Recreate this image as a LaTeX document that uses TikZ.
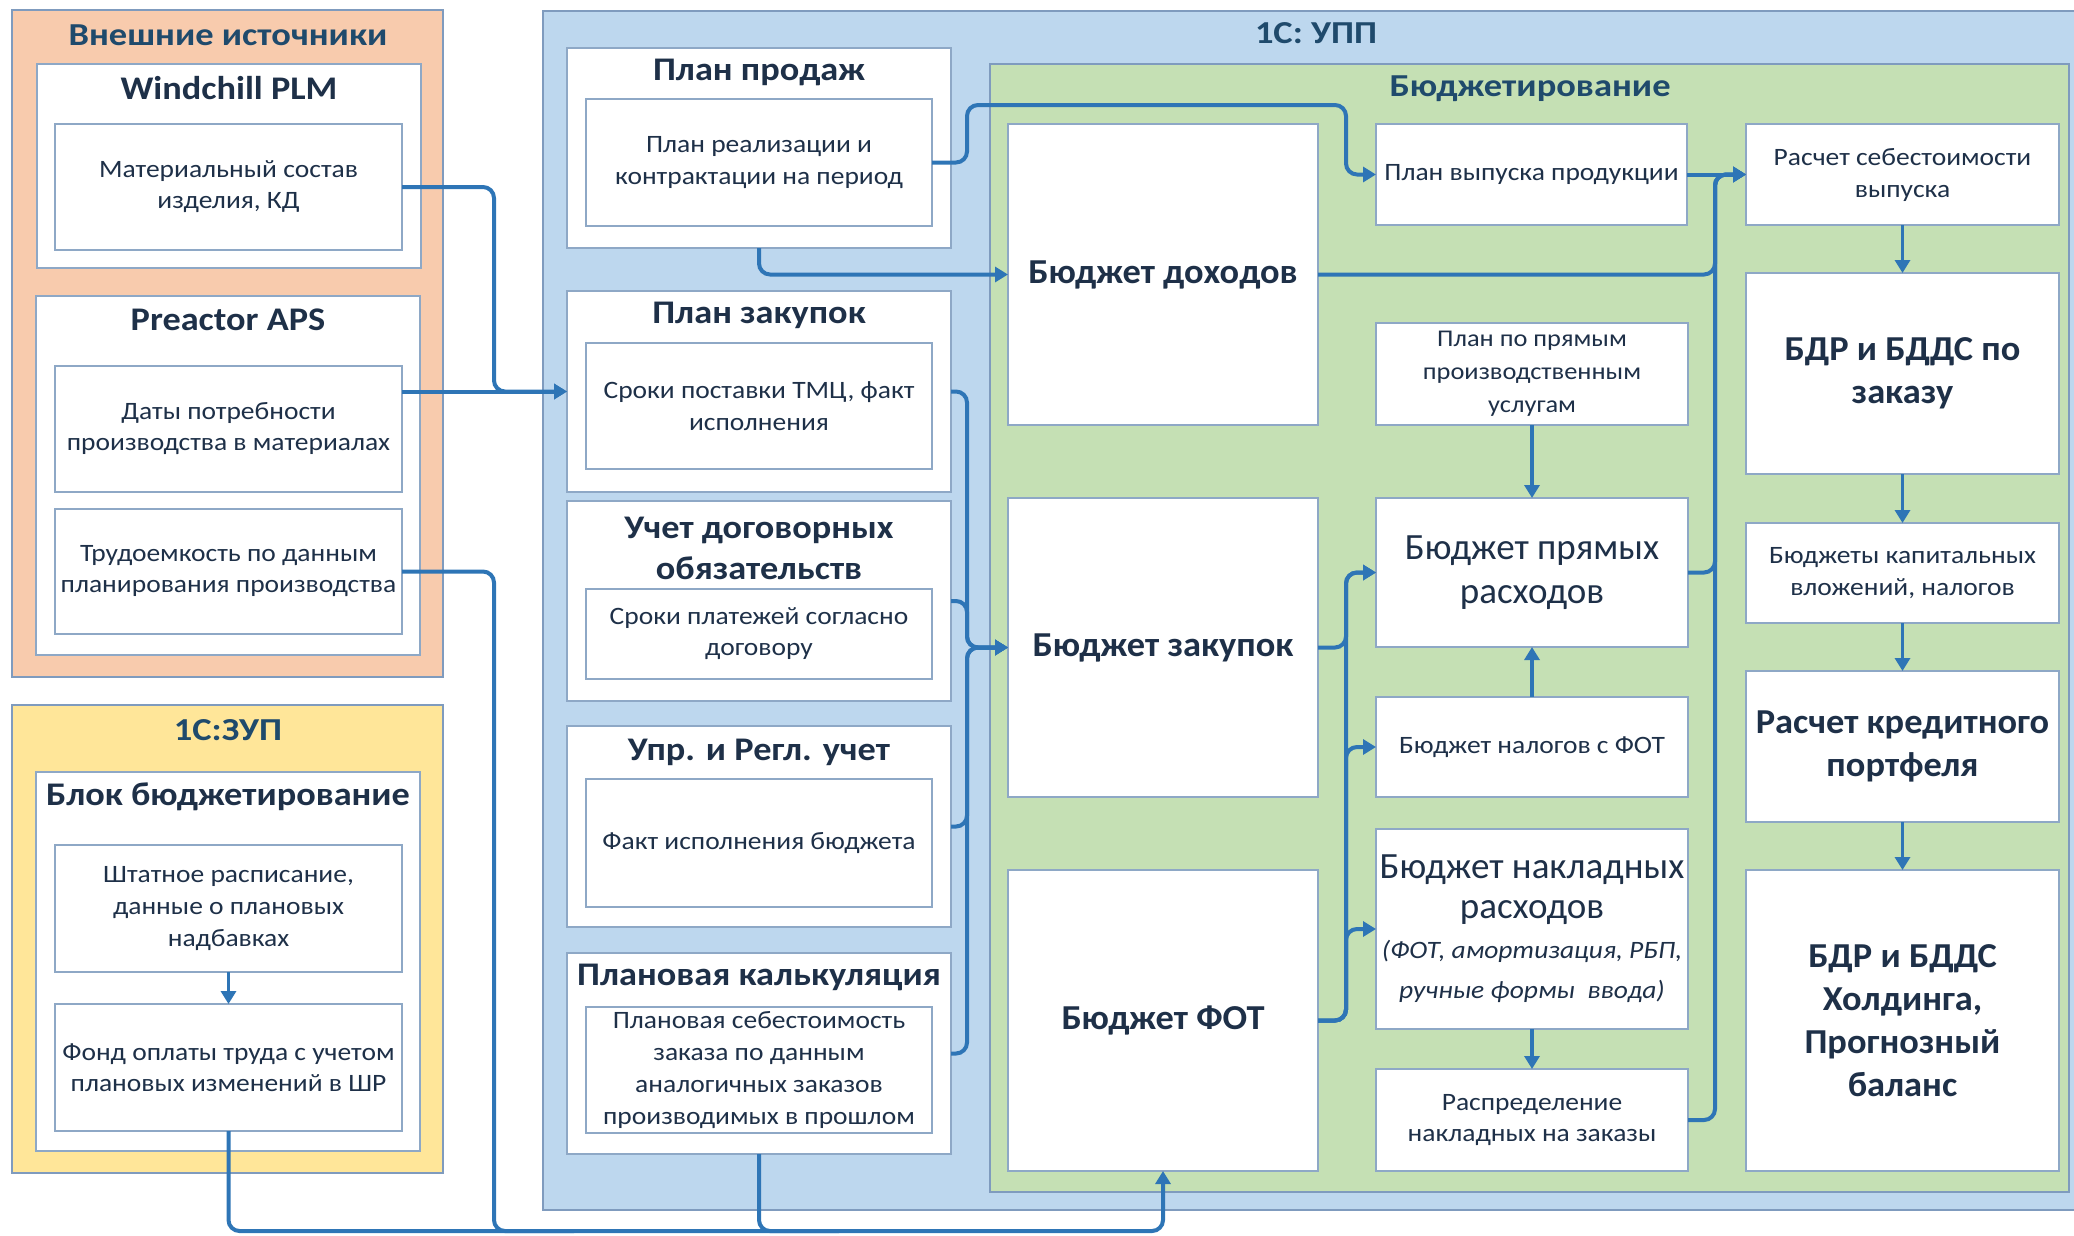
\documentclass[tikz,border=0pt]{standalone}
\usepackage{fontspec}
\setmainfont{Carlito}
\newfontfamily\fA{Carlito}[FakeStretch=1.10]
\newfontfamily\fT{Carlito}[FakeStretch=1.14]
\newfontfamily\fB{Carlito}[FakeStretch=1.04]
\usetikzlibrary{arrows.meta}
\definecolor{orangebg}{HTML}{F8CBAD}
\definecolor{yellowbg}{HTML}{FFE699}
\definecolor{bluebg}{HTML}{BDD7EE}
\definecolor{greenbg}{HTML}{C5E0B4}
\definecolor{edge}{HTML}{8EA8C6}
\definecolor{cedge}{HTML}{7F9BBE}
\definecolor{arr}{HTML}{2E75B6}
\definecolor{txt}{HTML}{1E3048}
\definecolor{ttl}{HTML}{1F4A6C}
\tikzset{
  box/.style={draw=edge, line width=1.6pt, fill=white, inner sep=0pt, outer sep=0pt, align=center, text=txt},
  cont/.style={draw=cedge, line width=1.4pt},
  conn/.style={draw=arr, line width=4pt, rounded corners=11pt},
  arrowed/.style={conn, -{Triangle[length=13pt,width=15pt]}},
  varrow/.style={draw=arr, line width=3.6pt, -{Triangle[length=13pt,width=15pt]}},
  sm/.style={font=\fA\fontsize{25}{31}\selectfont},
  smb/.style={font=\fA\fontsize{25}{32}\selectfont},
  bigb/.style={font=\fB\fontsize{35}{43}\selectfont\bfseries},
  bigr/.style={font=\fontsize{37}{44}\selectfont},
  btitle/.style={inner sep=0pt, text=txt, font=\fA\fontsize{33}{41}\selectfont\bfseries, align=center},
  ctitle/.style={inner sep=0pt, text=ttl, font=\fT\fontsize{32}{40}\selectfont\bfseries}
}
\newcommand\bx[6][]{\node[box,#1,minimum width={(#5-#3)*1pt},minimum height={(#6-#4)*1pt}] (#2) at ({(#3+#5)/2},{(#4+#6)/2})}
\begin{document}
\begin{tikzpicture}[x=1pt,y=-1pt]
\useasboundingbox (0,0) rectangle (2074,1235);
% containers
\draw[cont, fill=orangebg] (12,10) rectangle (443,677);
\draw[cont, fill=yellowbg] (12,705) rectangle (443,1173);
\draw[cont, fill=bluebg] (543,11) rectangle (2080,1210);
\draw[cont, fill=greenbg] (990,64) rectangle (2069,1192);
\node[ctitle] (text) at (228,35) {Внешние источники};
\node[ctitle] (tzup) at (228,730) {1С:ЗУП};
\node[ctitle] (tupp) at (1316,33) {1С: УПП};
\node[ctitle] (tbud) at (1530,89) {Бюджетирование};
% external sources
\bx{wind}{37}{64}{421}{268} {};
\node[btitle] (twind) at (229,88) {Windchill PLM};
\bx[sm]{mat}{55}{124}{402}{250} {Материальный состав\\изделия, КД};
\bx{prea}{36}{296}{420}{655} {};
\node[btitle] (tprea) at (228,320) {Preactor APS};
\bx[sm]{dat}{55}{366}{402}{492} {Даты потребности\\производства в материалах};
\bx[sm]{trd}{55}{509}{402}{634} {Трудоемкость по данным\\планирования производства};
% ZUP
\bx{blk}{36}{772}{420}{1151} {};
\node[btitle] (tblk) at (228,797) {Блок бюджетирование};
\bx[smb]{sht}{55}{845}{402}{972} {Штатное расписание,\\данные о плановых\\надбавках};
\bx[sm]{fond}{55}{1004}{402}{1131} {Фонд оплаты труда с учетом\\плановых изменений в ШР};
% UPP left column
\bx{pp}{567}{48}{951}{248} {};
\node[btitle] (tpp) at (759,72) {План продаж};
\bx[smb]{pr}{586}{99}{932}{226} {План реализации и\\контрактации на период};
\bx{pz}{567}{291}{951}{492} {};
\node[btitle] (tpz) at (759,315) {План закупок};
\bx[smb]{sp}{586}{343}{932}{469} {Сроки поставки ТМЦ, факт\\исполнения};
\bx{uch}{567}{501}{951}{701} {};
\node[btitle] (tuch) at (759,548) {Учет договорных\\обязательств};
\bx[sm]{spl}{586}{589}{932}{679} {Сроки платежей согласно\\договору};
\bx{upr}{567}{726}{951}{927} {};
\node[btitle] (tupr) at (759,752) {Упр. и Регл. учет};
\bx[sm]{fakt}{586}{779}{932}{907} {Факт исполнения бюджета};
\bx{pk}{567}{953}{951}{1154} {};
\node[btitle] (tpk) at (759,977) {Плановая калькуляция};
\bx[smb]{pks}{586}{1007}{932}{1133} {Плановая себестоимость\\заказа по данным\\аналогичных заказов\\производимых в прошлом};
% budgeting
\bx[bigb]{bd}{1008}{124}{1318}{425} {Бюджет доходов};
\bx[bigb]{bz}{1008}{498}{1318}{797} {Бюджет закупок};
\bx[bigb]{fot}{1008}{870}{1318}{1171} {Бюджет ФОТ};
\bx[sm]{pv}{1376}{124}{1687}{225} {План выпуска продукции};
\bx[font=\fA\fontsize{24}{33}\selectfont]{ppr}{1376}{323}{1688}{425} {План по прямым\\производственным\\услугам};
\bx[bigr]{bpr}{1376}{498}{1688}{647} {Бюджет прямых\\расходов};
\bx[sm]{bn}{1376}{697}{1688}{797} {Бюджет налогов с ФОТ};
\bx[font=\fontsize{37}{40}\selectfont]{bnk}{1376}{829}{1688}{1029} {Бюджет накладных\\расходов\\{\fA\fontsize{25}{40}\selectfont\itshape (ФОТ, амортизация, РБП,}\\{\fA\fontsize{25}{40}\selectfont\itshape ручные формы \ ввода)}};
\bx[sm]{rsp}{1376}{1069}{1688}{1171} {Распределение\\накладных на заказы};
\bx[smb]{rs}{1746}{124}{2059}{225} {Расчет себестоимости\\выпуска};
\bx[bigb]{bdr}{1746}{273}{2059}{474} {БДР и БДДС по\\заказу};
\bx[smb]{kap}{1746}{523}{2059}{623} {Бюджеты капитальных\\вложений, налогов};
\bx[bigb]{kred}{1746}{671}{2059}{822} {Расчет кредитного\\портфеля};
\bx[bigb]{hold}{1746}{870}{2059}{1171} {БДР и БДДС\\Холдинга,\\Прогнозный\\баланс};
% bus coordinates
\coordinate (b1) at (494,0);
\coordinate (b2) at (967,0);
\coordinate (b3) at (1346,0);
\coordinate (b4) at (1715,0);
\coordinate (t1) at (0,105);
\coordinate (bot) at (0,1231);
% connectors: external -> plan zakupok
\draw[arrowed] (mat.east) -- (mat.east -| b1) -- (b1 |- pz.west) -- (pz.west);
\draw[arrowed] (dat.east |- pz.west) -- (pz.west);
% bottom line -> FOT
\draw[conn] (trd.east) -- (trd.east -| b1) -- (b1 |- bot) -- ++(80,0);
\draw[conn] (pk.south) -- (pk.south |- bot) -- ++(80,0);
\draw[arrowed] (fond.south) -- (fond.south |- bot) -- (fot.south |- bot) -- (fot.south);
% ZUP internal
\draw[varrow] (sht.south) -- (fond.north);
% sales
\draw[arrowed] (pp.south) -- (pp.south |- bd.west) -- (bd.west);
\draw[arrowed] (pr.east) -- (pr.east -| b2) -- (b2 |- t1) -- (b3 |- t1) -- (b3 |- pv.west) -- (pv.west);
% left bus -> budget zakupok
\draw[arrowed] (pz.east) -- (pz.east -| b2) -- (b2 |- bz.west) -- (bz.west);
\draw[arrowed] (uch.east) -- (uch.east -| b2) -- (b2 |- bz.west) -- (bz.west);
\draw[arrowed] (upr.east) -- (upr.east -| b2) -- (b2 |- bz.west) -- (bz.west);
\draw[arrowed] (pk.east) -- (pk.east -| b2) -- (b2 |- bz.west) -- (bz.west);
% middle bus
\draw[arrowed] (bz.east) -- (bz.east -| b3) -- (b3 |- bpr.west) -- (bpr.west);
\draw[arrowed] (fot.east) -- (fot.east -| b3) -- (b3 |- bpr.west) -- (bpr.west);
\draw[arrowed] (fot.east) -- (fot.east -| b3) -- (b3 |- bn.west) -- (bn.west);
\draw[arrowed] (fot.east) -- (fot.east -| b3) -- (b3 |- bnk.west) -- (bnk.west);
% right bus
\draw[arrowed] (pv.east) -- (rs.west);
\draw[arrowed] (bd.east) -- (bd.east -| b4) -- (b4 |- rs.west) -- (rs.west);
\draw[arrowed] (bpr.east) -- (bpr.east -| b4) -- (b4 |- rs.west) -- (rs.west);
\draw[arrowed] (rsp.east) -- (rsp.east -| b4) -- (b4 |- rs.west) -- (rs.west);
% vertical arrows
\draw[varrow] (ppr.south) -- (bpr.north);
\draw[varrow] (bn.north) -- (bpr.south);
\draw[varrow] (bnk.south) -- (rsp.north);
\draw[varrow] (rs.south) -- (bdr.north);
\draw[varrow] (bdr.south) -- (kap.north);
\draw[varrow] (kap.south) -- (kred.north);
\draw[varrow] (kred.south) -- (hold.north);
\end{tikzpicture}
\end{document}
